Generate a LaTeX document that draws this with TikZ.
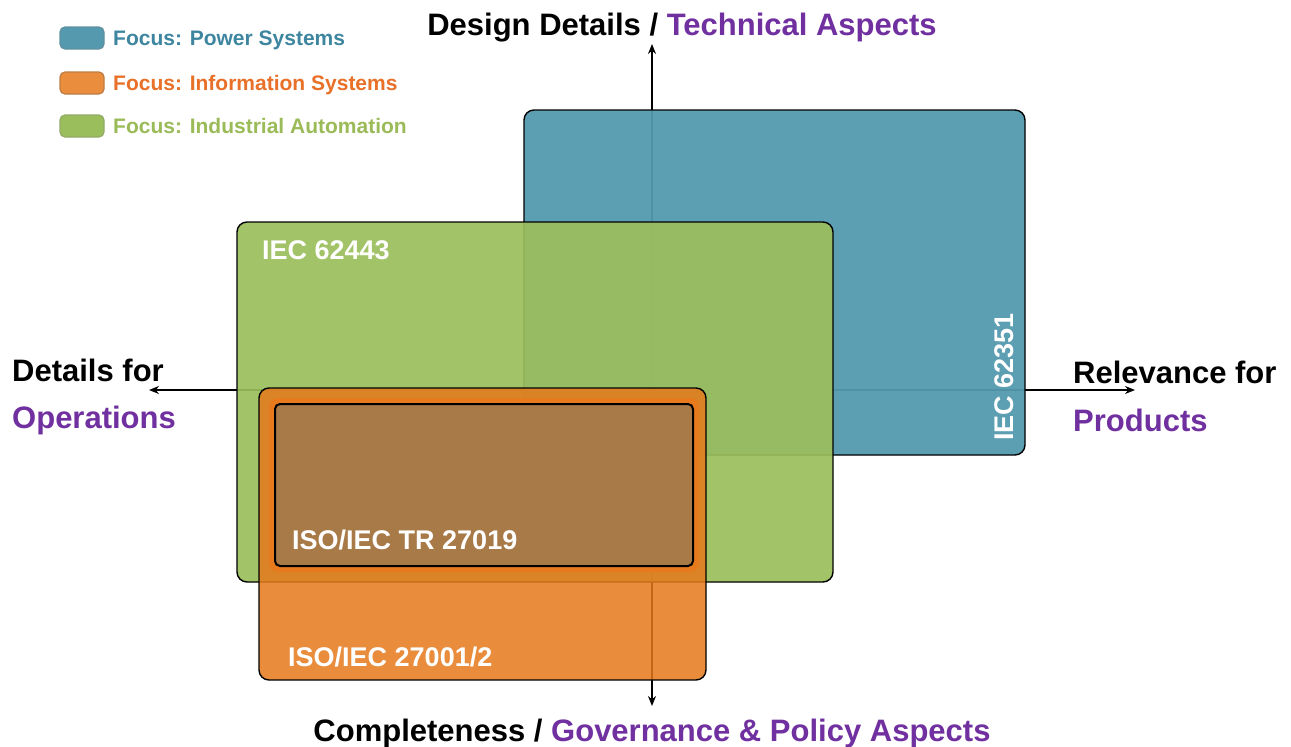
\documentclass[tikz,border=0pt]{standalone}
\usepackage{fontspec}
\setmainfont{Liberation Sans}
\usetikzlibrary{arrows.meta}
\definecolor{pblue}{RGB}{84,153,174}
\definecolor{pgreen}{RGB}{155,190,92}
\definecolor{porange}{RGB}{230,122,28}
\definecolor{pbrown}{RGB}{166,122,74}
\definecolor{ppurple}{RGB}{112,48,160}
\definecolor{tblue}{RGB}{62,134,160}
\definecolor{torange}{RGB}{232,112,40}
\definecolor{tgreen}{RGB}{155,187,89}
\newcommand\fsz[1]{\fontsize{#1}{#1}\selectfont\bfseries}
\begin{document}
\begin{tikzpicture}[x=1pt,y=-1pt,
  stdbox/.style={draw=black, line width=1.4pt, rounded corners=10pt, inner sep=0pt, outer sep=0pt},
  swatch/.style={rounded corners=5pt, minimum width=44pt, minimum height=22pt, inner sep=0pt, line width=1.2pt},
  legtext/.style={anchor=base west, font=\fsz{21}, inner sep=0pt},
  axislabel/.style={font=\fsz{31}, inner sep=0pt},
  boxlabel/.style={font=\fsz{27}, text=white, inner sep=0pt},
  axis/.style={line width=1.5pt, {Stealth[length=10pt,width=8pt]}-{Stealth[length=10pt,width=8pt]}}
]
\useasboundingbox (0,0) rectangle (1291,747);
\fill[white] (0,0) rectangle (1291,747);

% axes
\coordinate (ctop) at (652,44);
\coordinate (cbot) at (652,706);
\coordinate (cleft) at (149,390);
\coordinate (cright) at (1135,390);
\draw[axis] (cbot) -- (ctop);
\draw[axis] (cleft) -- (cright);

% boxes
\node[stdbox, fill=pblue, fill opacity=0.95, minimum width=501pt, minimum height=345pt] (blue) at (774.5,282.5) {};
\node[stdbox, fill=pgreen, fill opacity=0.92, minimum width=596pt, minimum height=360pt] (green) at (535,402) {};
\node[stdbox, fill=porange, fill opacity=0.85, minimum width=447pt, minimum height=292pt] (orange) at (482.5,534) {};
\node[draw=porange, line width=6pt, rounded corners=6pt, inner sep=0pt, minimum width=424pt, minimum height=168pt] (ring) at (484,485) {};
\node[draw=black, line width=2pt, fill=pbrown, fill opacity=0.95, rounded corners=5pt, inner sep=0pt, minimum width=418pt, minimum height=162pt] (inner) at (484,485) {};

% box labels
\node[boxlabel, anchor=base west] (l62443) at (262,259) {IEC 62443};
\node[boxlabel, anchor=base west] (l27019) at (292,549) {ISO/IEC TR 27019};
\node[boxlabel, anchor=base west] (l27001) at (288,666) {ISO/IEC 27001/2};
\node[boxlabel, anchor=base west, rotate=90] (l62351) at (1013,441) {IEC 62351};

% axis labels
\node[axislabel, anchor=base] (ltop) at (682,35) {Design Details / \textcolor{ppurple}{Technical Aspects}};
\node[axislabel, anchor=base] (lbot) at (652,741) {Completeness / \textcolor{ppurple}{Governance \& Policy Aspects}};
\node[axislabel, anchor=base west] (lleft1) at (12,381) {Details for};
\node[axislabel, anchor=base west, text=ppurple] (lleft2) at (12,428) {Operations};
\node[axislabel, anchor=base west] (lright1) at (1073,383) {Relevance for};
\node[axislabel, anchor=base west, text=ppurple] (lright2) at (1073,431) {Products};

% legend
\node[swatch, fill=pblue, draw=pblue!70!gray] (sw1) at (82,38) {};
\node[swatch, fill=porange!85!white, draw=porange!60!gray] (sw2) at (82,83) {};
\node[swatch, fill=pgreen, draw=pgreen!70!gray] (sw3) at (82,126) {};
\node[legtext, text=tblue] (t1) at (113,45) {Focus: Power Systems};
\node[legtext, text=torange] (t2) at (113,90) {Focus: Information Systems};
\node[legtext, text=tgreen] (t3) at (113,133) {Focus: Industrial Automation};
\end{tikzpicture}
\end{document}
